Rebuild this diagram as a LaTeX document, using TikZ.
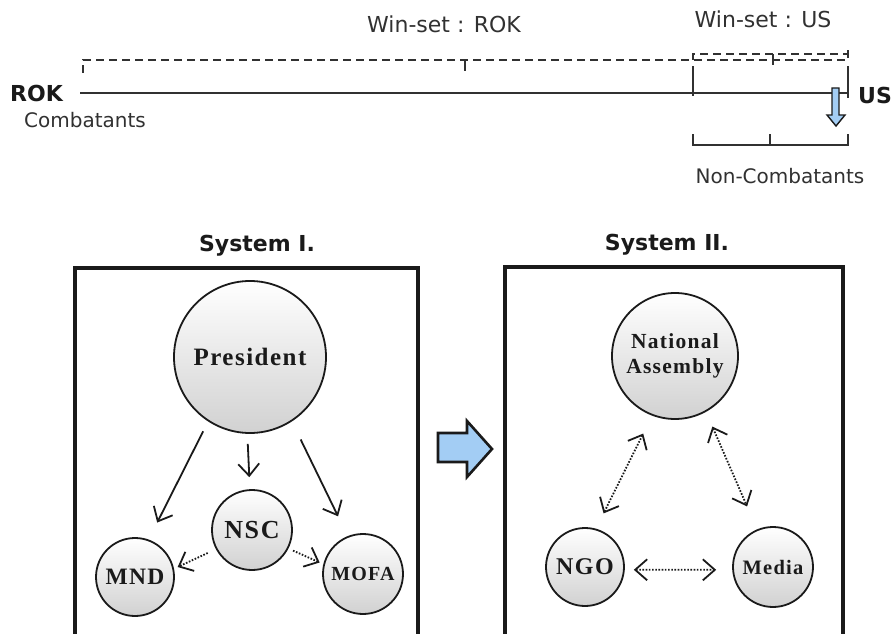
\documentclass[tikz,border=0pt]{standalone}
\usepackage{fontspec}
\setmainfont{DejaVu Sans}
\newfontfamily\orgfont[LetterSpace=6]{Liberation Serif}
\usetikzlibrary{arrows.meta,calc}
\definecolor{ink}{HTML}{1A1A1A}
\definecolor{arrowblue}{HTML}{A3CDF4}

\begin{document}
\begin{tikzpicture}[x=1pt,y=-1pt,
  org/.style={circle, draw=ink, line width=1.8pt, top color=white, bottom color=black!18,
    inner sep=0pt, text=ink, align=center},
  orgtext/.style={font=\orgfont\bfseries\fontsize{#1}{#1}\selectfont},
  rule/.style={line width=2.2pt, draw=ink!90},
  winset/.style={line width=2.2pt, draw=ink!90, dash pattern=on 8pt off 5pt},
  lab/.style={inner sep=0pt, text=ink!90, font=\fontsize{20}{24}\selectfont},
  boldlab/.style={inner sep=0pt, text=ink, font=\bfseries\fontsize{22}{26}\selectfont},
  sysbox/.style={line width=3.8pt, draw=ink, line join=miter},
  barb/.tip={Straight Barb[length=12pt,width=21pt,line width=1.8pt]},
  link/.style={line width=1.8pt, draw=ink, -barb},
  dotlink/.style={line width=1.8pt, draw=ink, dash pattern=on 1.6pt off 1.6pt},
  bluearrow/.style={fill=arrowblue, draw=ink, line join=miter},
]
\useasboundingbox (0,0) rectangle (895,634);

% ---------- scale of positions ----------
\coordinate (lineL) at (80,93);
\coordinate (lineR) at (848,93);
\coordinate (ncL) at (693,93);
\draw[rule] (lineL) -- (lineR);
\draw[rule] ([yshift=-3pt]ncL) -- ([yshift=27pt]ncL);
\draw[rule] ([yshift=-5pt]lineR) -- ([yshift=27pt]lineR);

\node[boldlab, anchor=base west] (rok) at (10,102) {ROK};
\node[boldlab, anchor=base west] (us) at (858,103) {US};
\node[lab, anchor=base west] (comb) at (24,128) {Combatants};

% win-set of ROK
\coordinate (rokA) at (83,73);
\coordinate (rokB) at (848,60);
\coordinate (rokMid) at (465,60);
\draw[winset] (rokA) |- (rokB) -- ([yshift=14pt]rokB);
\draw[rule] (rokMid) -- ([yshift=-11pt]rokMid);
\node[lab, font=\fontsize{22}{26}\selectfont, anchor=base] (wsrok) at (444,33) {Win-set : ROK};

% win-set of US
\coordinate (usA) at (693,60);
\coordinate (usB) at (848,54);
\coordinate (usMid) at (773,54);
\draw[winset] (usA) |- (usB) -- ([yshift=6pt]usB);
\draw[rule] (usMid) -- ([yshift=-11pt]usMid);
\node[lab, font=\fontsize{22}{26}\selectfont, anchor=base] (wsus) at (763,28) {Win-set : US};

% non-combatant range
\coordinate (brL) at (693,134);
\coordinate (brR) at (848,134);
\coordinate (brMid) at (770,145);
\draw[rule] (brL) |- (brR |- brMid) -- (brR);
\draw[rule] (brMid) -- ([yshift=11pt]brMid);
\node[lab, anchor=base] (noncomb) at (780,183) {Non-Combatants};

% small shift arrow
\draw[bluearrow, line width=1.4pt] (832,88) -- (839,88) -- (839,115) -- (845,115) -- (836,126)
  -- (827,115) -- (832,115) -- cycle;

% ---------- System I ----------
\node[boldlab, anchor=base] (t1) at (257,251) {System I.};
\draw[sysbox] (75,645) -- (75,268) -- (418,268) -- (418,645);

\node[org, minimum size=152pt, orgtext=25] (P) at (250,357) {President};
\node[org, minimum size=80pt, orgtext=26] (NSC) at (252,530) {NSC};
\node[org, minimum size=78pt, orgtext=23.5] (MND) at (135,577) {MND};
\node[org, minimum size=80pt, orgtext=20] (MOFA) at (363,574) {MOFA};

\draw[link, shorten <=11pt, shorten >=19pt] (P.237) -- (MND.70);
\draw[link, shorten <=10pt, shorten >=12pt] (P.268) -- (NSC.93);
\draw[link, shorten <=20pt, shorten >=22pt] (P.303) -- (MOFA.112);
\draw[dotlink, -barb, shorten <=9pt, shorten >=4pt] (NSC.208) -- (MND.12);
\draw[dotlink, -barb, shorten <=5pt, shorten >=4pt] (NSC.333) -- (MOFA.166);

% ---------- transition arrow ----------
\draw[bluearrow, line width=2.6pt] (438,433) -- (467,433) -- (467,421) -- (492,449)
  -- (467,477) -- (467,462) -- (438,462) -- cycle;

% ---------- System II ----------
\node[boldlab, anchor=base] (t2) at (667,250) {System II.};
\draw[sysbox] (505,645) -- (505,267) -- (843,267) -- (843,645);

\node[org, minimum size=126pt, orgtext=21.5] (NA) at (675,356)
  {National\\[3pt]Assembly};
\node[org, minimum size=78pt, orgtext=24] (NGO) at (585,567) {NGO};
\node[org, minimum size=80pt, orgtext=20.5] (Media) at (773,567) {Media};

\draw[dotlink, barb-barb, shorten <=17pt, shorten >=20pt] (NGO.74) -- (NA.249);
\draw[dotlink, barb-barb, shorten <=16pt, shorten >=25pt] (NA.299) -- (Media.113);
\draw[dotlink, barb-barb, shorten <=9pt, shorten >=16pt] (NGO.-4) -- (Media.184);
\end{tikzpicture}
\end{document}
